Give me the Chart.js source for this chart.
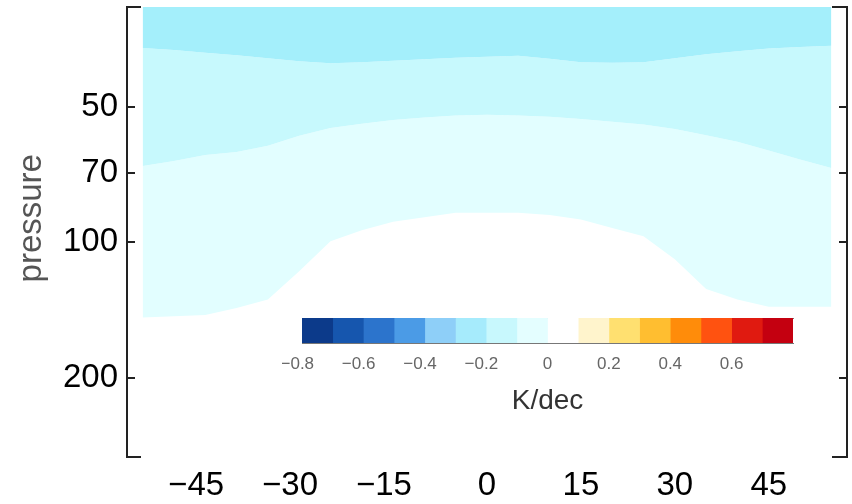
<!DOCTYPE html>
<html>
<head>
<meta charset="utf-8">
<script src="https://cdn.jsdelivr.net/npm/chart.js@4.4.1/dist/chart.umd.min.js"></script>
<style>
  body { margin: 0; background: #fff; }
  #wrap { position: relative; width: 852px; height: 504px; }
  #main { position: absolute; left: 0; top: 0; }
  #cbar { position: absolute; left: 282px; top: 308px; }
</style>
</head>
<body>
<div id="wrap">
  <canvas id="main" width="852" height="504"></canvas>
  <canvas id="cbar" width="540" height="110"></canvas>
</div>
<script>
// latitude grid and contour boundaries (pressure, hPa)
const lat = [-55, -50, -45, -40, -35, -30, -25, -20, -15, -10, -5, 0, 5, 10, 15, 20, 25, 30, 35, 40, 45, 50, 55];
// edge between -0.3..-0.2 and -0.2..-0.1
const pEdge1 = [37.0, 37.4, 37.9, 38.4, 39.0, 39.6, 40.0, 39.8, 39.5, 39.2, 38.9, 38.7, 38.5, 39.1, 39.8, 39.9, 39.8, 39.0, 38.2, 37.6, 37.1, 36.8, 36.6];
// edge between -0.2..-0.1 and -0.1..0
const pEdge2 = [67.7, 66, 64, 63, 61, 58, 55.7, 54.5, 53.5, 52.8, 52.3, 52.1, 52.3, 52.6, 53.2, 54, 54.7, 56, 57.8, 59.8, 62.5, 65.5, 68.4];
// edge between -0.1..0 and 0..0.1
const pEdge3 = [147, 146, 145, 140, 134, 116, 99.5, 94, 90, 88, 86, 86, 86, 87, 89, 93, 97, 109, 127, 134, 139, 139, 139];

const xTicks = [-45, -30, -15, 0, 15, 30, 45];
const yTicks = [50, 70, 100, 200];

// colour bar
const cbEdges = [-0.8, -0.7, -0.6, -0.5, -0.4, -0.3, -0.2, -0.1, 0, 0.1, 0.2, 0.3, 0.4, 0.5, 0.6, 0.7, 0.8];
const cbColors = ['#0c3a8a', '#1656ae', '#2c74cc', '#4b9be6', '#8ecff8', '#a6ebfc', '#c8f8fd', '#e4feff',
                  '#ffffff', '#fff4cc', '#ffe070', '#ffbe30', '#ff8c0a', '#ff5210', '#e01a10', '#c40010'];
const cbTicks = [-0.8, -0.6, -0.4, -0.2, 0, 0.2, 0.4, 0.6];

Chart.defaults.font.family = '"Liberation Sans", Arial, Helvetica, sans-serif';
Chart.defaults.color = '#000';

function pts(arr) {
  return lat.map((v, i) => ({ x: v, y: arr[i] }));
}
// matlab style: long minus hanging to the left of the centred digits
function minus(s) {
  s = String(s);
  return s.charAt(0) === '-' ? '\u2212' + s.slice(1) + '  ' : s;
}

// short horizontal bits at the box corners
const cornerStubs = {
  id: 'cornerStubs',
  afterDraw(chart) {
    const ctx = chart.ctx;
    const a = chart.chartArea;
    ctx.save();
    ctx.strokeStyle = '#222';
    ctx.lineWidth = 2;
    ctx.beginPath();
    ctx.moveTo(a.left - 1, a.top); ctx.lineTo(a.left + 14, a.top);
    ctx.moveTo(a.left - 1, a.bottom); ctx.lineTo(a.left + 14, a.bottom);
    ctx.moveTo(a.right + 1, a.top); ctx.lineTo(a.right - 15, a.top);
    ctx.moveTo(a.right + 1, a.bottom); ctx.lineTo(a.right - 15, a.bottom);
    ctx.stroke();
    ctx.restore();
  }
};

const yAxisBase = {
  type: 'logarithmic',
  reverse: true,
  min: 30,
  max: 300,
  afterBuildTicks: s => { s.ticks = yTicks.map(v => ({ value: v })); },
  grid: { drawOnChartArea: false, tickLength: -8, color: '#222', lineWidth: 2 },
  border: { color: '#222', width: 2 }
};

let myChart = new Chart(document.getElementById('main'), {
  type: 'line',
  data: {
    datasets: [
      { label: '-0.3', data: pts(pEdge1), fill: 'end', backgroundColor: '#a4effb', borderWidth: 0, pointRadius: 0 },
      { label: '-0.2', data: pts(pEdge2), fill: '-1', backgroundColor: '#c7f9fd', borderWidth: 0, pointRadius: 0 },
      { label: '-0.1', data: pts(pEdge3), fill: '-1', backgroundColor: '#e2feff', borderWidth: 0, pointRadius: 0 }
    ]
  },
  options: {
    responsive: false,
    animation: false,
    devicePixelRatio: 1,
    layout: { padding: { top: 7, right: 0, bottom: 0, left: 0 } },
    plugins: { legend: { display: false }, tooltip: { enabled: false } },
    scales: {
      x: {
        type: 'linear',
        min: -57.5,
        max: 57.5,
        afterBuildTicks: s => { s.ticks = xTicks.map(v => ({ value: v })); },
        grid: { display: false },
        border: { display: false },
        ticks: { font: { size: 33 }, color: '#000', padding: 1, maxRotation: 0, callback: v => minus(v) },
        afterFit: s => { s.height = 47; s.paddingLeft = 0; s.paddingRight = 0; }
      },
      y: Object.assign({}, yAxisBase, {
        position: 'left',
        ticks: { font: { size: 33 }, color: '#000', padding: 17, callback: v => String(v) },
        title: { display: true, text: '   pressure', font: { size: 33 }, color: '#555', padding: { top: 12, bottom: 0 } },
        afterFit: s => { s.width = 127; s.paddingTop = 0; s.paddingBottom = 0; }
      }),
      y2: Object.assign({}, yAxisBase, {
        position: 'right',
        ticks: { display: false },
        afterFit: s => { s.width = 5; s.paddingTop = 0; s.paddingBottom = 0; }
      })
    }
  },
  plugins: [cornerStubs]
});

let cbChart = new Chart(document.getElementById('cbar'), {
  type: 'bar',
  data: {
    labels: ['K/dec'],
    datasets: cbColors.map((c, i) => ({
      data: [[cbEdges[i], cbEdges[i + 1]]],
      backgroundColor: c,
      grouped: false,
      barPercentage: 1,
      categoryPercentage: 1,
      borderWidth: 0
    }))
  },
  options: {
    indexAxis: 'y',
    responsive: false,
    animation: false,
    devicePixelRatio: 1,
    layout: { padding: { top: 10, right: 29, bottom: 0, left: 20 } },
    plugins: { legend: { display: false }, tooltip: { enabled: false } },
    scales: {
      x: {
        type: 'linear',
        min: -0.8,
        max: 0.8,
        afterBuildTicks: s => { s.ticks = cbTicks.map(v => ({ value: v })); },
        grid: { display: false },
        border: { color: '#777', width: 1 },
        ticks: { font: { size: 17 }, color: '#666', padding: 3, callback: v => v === 0 ? '0' : minus(v.toFixed(1)) },
        title: { display: true, text: 'K/dec', font: { size: 28 }, color: '#333', padding: { top: 8, bottom: 0 } },
        afterFit: s => { s.height = 75; s.paddingLeft = 0; s.paddingRight = 0; }
      },
      xTop: {
        type: 'linear',
        position: 'top',
        min: -0.8,
        max: 0.8,
        grid: { display: false },
        border: { color: '#777', width: 1 },
        ticks: { display: false },
        afterFit: s => { s.height = 0; s.paddingLeft = 0; s.paddingRight = 0; }
      },
      y: { display: false }
    }
  }
});
</script>
</body>
</html>
